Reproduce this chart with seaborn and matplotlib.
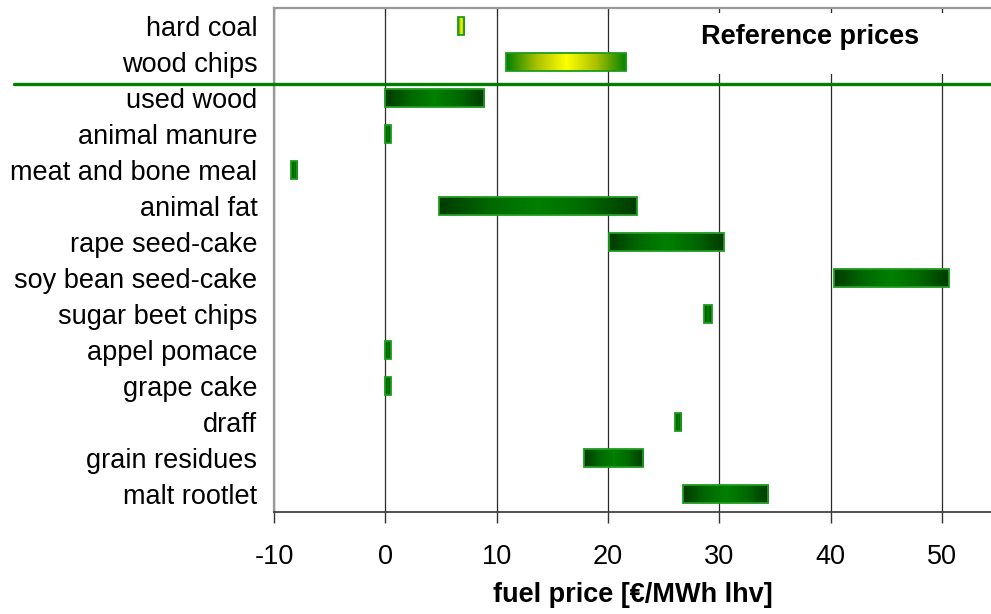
import numpy as np
import pandas as pd
import matplotlib
matplotlib.use("Agg")
import matplotlib.pyplot as plt
from matplotlib.colors import LinearSegmentedColormap
from matplotlib.lines import Line2D
from matplotlib.patches import Rectangle
import seaborn as sns

# ---- data ----
fuels = ["hard coal", "wood chips", "used wood", "animal manure", "meat and bone meal",
         "animal fat", "rape seed-cake", "soy bean seed-cake", "sugar beet chips",
         "appel pomace", "grape cake", "draff", "grain residues", "malt rootlet"]
price_low = [6.5, 10.8, 0.0, 0.0, -8.5, 4.85, 20.1, 40.3, 28.6, 0.0, 0.0, 26.0, 17.8, 26.7]
price_high = [7.1, 21.6, 8.9, 0.5, -7.9, 22.6, 30.4, 50.6, 29.3, 0.5, 0.5, 26.6, 23.1, 34.4]
reference_fuels = ["hard coal", "wood chips"]
x_ticks = [-10, 0, 10, 20, 30, 40, 50]

df = pd.DataFrame({"fuel": fuels, "low": price_low, "high": price_high})
df["span"] = df["high"] - df["low"]

sns.set_style("white")
plt.rcParams["font.family"] = ["Liberation Sans", "DejaVu Sans"]
plt.rcParams["axes.unicode_minus"] = False
plt.rcParams["text.color"] = "black"
plt.rcParams["xtick.color"] = "black"
plt.rcParams["ytick.color"] = "black"
plt.rcParams["axes.labelcolor"] = "black"

FS = 19.5

fig = plt.figure(figsize=(9.91, 6.14), dpi=100)
ax = fig.add_axes([274 / 991, 1 - 512 / 614, (991 - 274) / 991, (512 - 8) / 614])

sns.barplot(data=df, x="span", y="fuel", order=fuels, orient="h", left=df["low"].to_numpy(),
            width=0.52, color="#008000", facecolor="none", edgecolor="#1c9c1c",
            linewidth=1.3, ax=ax, zorder=4)

green_cmap = LinearSegmentedColormap.from_list(
    "g", ["#003a00", "#006800", "#008000", "#006800", "#003a00"])
yellow_cmap = LinearSegmentedColormap.from_list(
    "y", ["#008000", "#a8c000", "#ffff00", "#a8c000", "#008000"])
grad = np.linspace(0, 1, 256).reshape(1, -1)

for i, patch in enumerate(ax.patches):
    bb = patch.get_bbox()
    cmap = yellow_cmap if fuels[i] in reference_fuels else green_cmap
    im = ax.imshow(grad, extent=[bb.x0, bb.x1, bb.y1, bb.y0], aspect="auto",
                   cmap=cmap, zorder=3, interpolation="bilinear")
    im.set_clip_path(patch)

ax.set_xlim(-10, 54.4)
ax.set_ylim(13.5, -0.5)

# white box behind the "Reference prices" caption
ax.add_patch(Rectangle((23.5, -0.36), 31, 1.68, facecolor="white", edgecolor="none", zorder=1.5))
ax.text(38.15, 0.31, "Reference prices", fontsize=FS, fontweight="bold", color="black",
        ha="center", va="center", zorder=5)

# grid and spines
ax.set_axisbelow(True)
ax.set_xticks(x_ticks)
ax.xaxis.grid(True, color="#2a2a2a", linewidth=0.9)
ax.yaxis.grid(False)
for s in ["left", "top"]:
    ax.spines[s].set_color("#999999")
    ax.spines[s].set_linewidth(1.6)
ax.spines["bottom"].set_color("#333333")
ax.spines["bottom"].set_linewidth(1.2)
ax.spines["right"].set_visible(False)

ax.tick_params(axis="x", which="both", bottom=True, top=False, direction="out", length=8,
               width=1, color="#333333", labelsize=FS, labelcolor="black", pad=15)
ax.tick_params(axis="y", length=0, labelsize=FS, labelcolor="black", pad=12)
ax.set_ylabel("")
ax.set_xlabel("fuel price [€/MWh lhv]", fontsize=FS, fontweight="bold", color="black",
              labelpad=9)

# inward ticks on the top edge
top = ax.secondary_xaxis("top")
top.set_xticks(x_ticks)
top.tick_params(direction="in", length=5, color="#666666", labeltop=False)
top.set_xticklabels([])
top.spines["top"].set_visible(False)

# separator line between reference prices and residues
fig.add_artist(Line2D([14 / 991, 1.0], [1 - 84 / 614, 1 - 84 / 614], color="#008000",
                      linewidth=2.4, transform=fig.transFigure, zorder=10))

fig.savefig("out.png", dpi=100)
